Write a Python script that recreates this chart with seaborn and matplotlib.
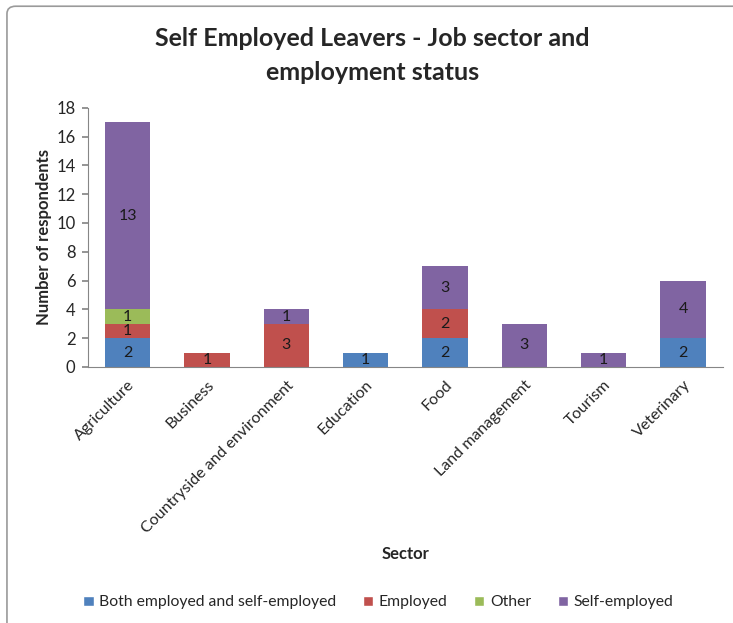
import matplotlib
matplotlib.use("Agg")
import matplotlib.pyplot as plt
import seaborn as sns
import numpy as np
import pandas as pd
from matplotlib.patches import Patch, FancyBboxPatch

categories = ["Agriculture", "Business", "Countryside and environment", "Education",
              "Food", "Land management", "Tourism", "Veterinary"]
both = [2, 0, 0, 1, 2, 0, 0, 2]
employed = [1, 1, 3, 0, 2, 0, 0, 0]
other = [1, 0, 0, 0, 0, 0, 0, 0]
self_emp = [13, 0, 1, 0, 3, 3, 1, 4]
series_names = ["Both employed and self-employed", "Employed", "Other", "Self-employed"]
series_values = [both, employed, other, self_emp]
colors = ["#4F81BD", "#C0504D", "#9BBB59", "#8064A2"]
yticks = [0, 2, 4, 6, 8, 10, 12, 14, 16, 18]

sns.set_theme(style="white")
plt.rcParams['font.family'] = ['Lato', 'DejaVu Sans']

fig = plt.figure(figsize=(7.33, 6.23), dpi=100)
ax = fig.add_axes([0.12, 0.411, 0.866, 0.416])

bottom = np.zeros(len(categories))
for name, vals, col in zip(series_names, series_values, colors):
    vals = np.array(vals, dtype=float)
    df = pd.DataFrame({"Sector": categories, "v": vals})
    sns.barplot(data=df, x="Sector", y="v", bottom=bottom, color=col, width=0.57,
                saturation=1, ax=ax, order=categories, linewidth=0)
    for i, v in enumerate(vals):
        if v > 0:
            ax.text(i, bottom[i] + v / 2, f"{int(v)}", ha="center", va="center",
                    fontsize=11.5, color="#1a1a1a")
    bottom = bottom + vals

ax.set_ylim(0, 18)
ax.set_xlim(-0.5, len(categories) - 0.5)
ax.set_yticks(yticks)
ax.set_yticklabels([str(t) for t in yticks], fontsize=12)
ax.set_xticks(range(len(categories)))
ax.set_xticklabels(categories, rotation=45, ha="right", rotation_mode="anchor", fontsize=11.5)
ax.tick_params(axis="y", length=4, color="#868686", pad=5, left=True)
ax.tick_params(axis="x", length=0, pad=8)
for s in ["top", "right"]:
    ax.spines[s].set_visible(False)
for s in ["left", "bottom"]:
    ax.spines[s].set_color("#868686")
    ax.spines[s].set_linewidth(0.8)
ax.set_xlabel("Sector", fontsize=12, fontweight="bold", labelpad=0)
ax.xaxis.set_label_coords(0.5, -0.69)
ax.set_ylabel("Number of respondents", fontsize=12, fontweight="bold", labelpad=3)

fig.text(0.508, 0.911, "Self Employed Leavers - Job sector and\nemployment status",
         ha="center", va="center", fontsize=18, fontweight="bold", linespacing=1.55)

handles = [Patch(facecolor=c, label=n) for n, c in zip(series_names, colors)]
fig.legend(handles=handles, loc="center", bbox_to_anchor=(0.516, 0.033), ncol=4,
           frameon=False, fontsize=11.3, handlelength=0.65, handleheight=0.65,
           handletextpad=0.35, columnspacing=1.7)

border = FancyBboxPatch((0.0095, -0.05), 1.1, 1.04, boxstyle="round,pad=0,rounding_size=0.012",
                        transform=fig.transFigure, facecolor="none", edgecolor="#9a9a9a",
                        linewidth=1.2, clip_on=False)
fig.patches.append(border)

fig.savefig("out.png", dpi=100)
